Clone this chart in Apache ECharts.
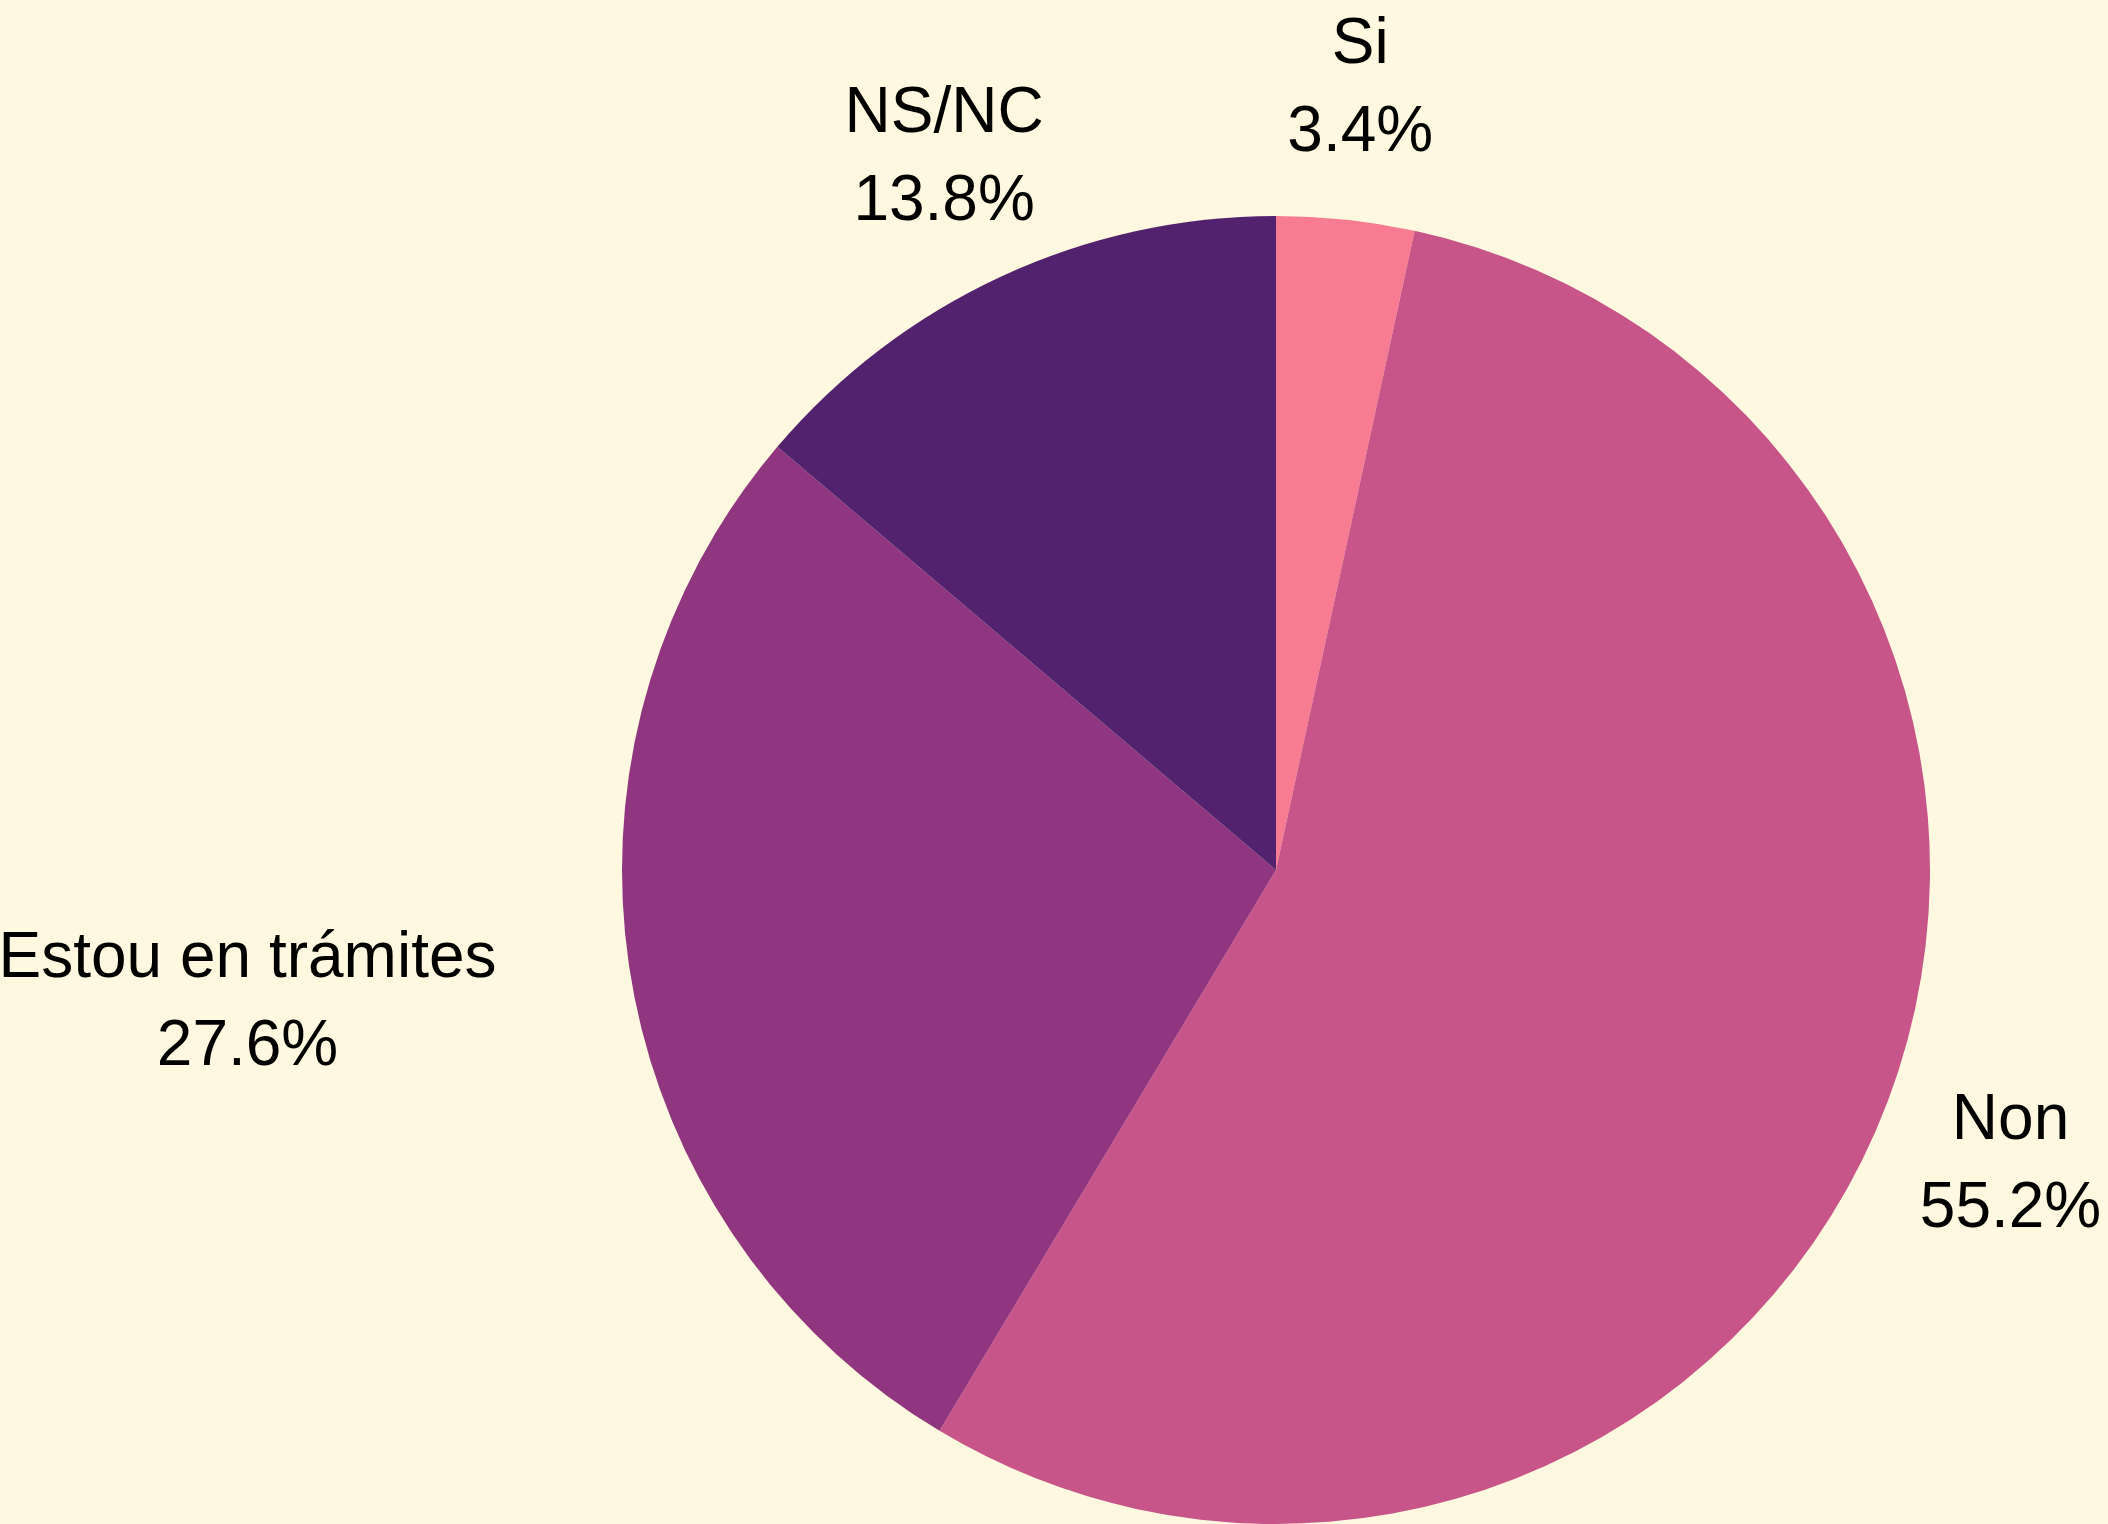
<!DOCTYPE html>
<html>
<head>
<meta charset="utf-8">
<script src="https://cdn.jsdelivr.net/npm/echarts@6/dist/echarts.min.js"></script>
<style>
  html, body { margin: 0; padding: 0; background: #FDF8DF; }
  #chart { width: 2108px; height: 1524px; }
</style>
</head>
<body>
<div id="chart"></div>
<script>
const categories = ['Si', 'Non', 'Estou en trámites', 'NS/NC'];
const values = [3.4, 55.2, 27.6, 13.8];
const colors = ['#F77B91', '#C85589', '#90357F', '#52226F'];

const CX = 1276, CY = 870, R = 654, LABEL_R = 790, LABEL_DY = 5;
const total = values.reduce((a, b) => a + b, 0);
const midAngles = [];
let cum = 0;
values.forEach(v => { midAngles.push((cum + v / 2) / total * Math.PI * 2); cum += v; });

function boxHitsCircle(x0, y0, x1, y1) {
  const nx = Math.max(x0, Math.min(CX, x1));
  const ny = Math.max(y0, Math.min(CY, y1));
  return Math.hypot(nx - CX, ny - CY) < R;
}

const chart = echarts.init(document.getElementById('chart'), null, { renderer: 'canvas' });
chart.setOption({
  backgroundColor: '#FDF8DF',
  animation: false,
  series: [{
    type: 'pie',
    center: [CX, CY],
    radius: [0, R],
    startAngle: 90,
    clockwise: true,
    avoidLabelOverlap: false,
    percentPrecision: 1,
    data: categories.map((c, i) => ({ name: c, value: values[i], itemStyle: { color: colors[i] } })),
    itemStyle: { borderWidth: 0 },
    emphasis: { disabled: true },
    label: {
      show: true,
      position: 'outside',
      formatter: '{b}\n{d}%',
      fontFamily: 'Liberation Sans',
      fontSize: 64,
      lineHeight: 88,
      color: '#000',
      align: 'center'
    },
    labelLine: { show: false },
    labelLayout: function (params) {
      const a = midAngles[params.dataIndex];
      let x = CX + LABEL_R * Math.sin(a);
      const y = CY - LABEL_R * Math.cos(a);
      const w = params.labelRect.width, h = params.labelRect.height;
      if (boxHitsCircle(x - w / 2, y - h / 2, x + w / 2, y + h / 2)) {
        x = Math.sin(a) < 0 ? x - w / 2 : x + w / 2;
      }
      return { x: x, y: y + LABEL_DY, align: 'center', verticalAlign: 'middle' };
    }
  }]
});
</script>
</body>
</html>
